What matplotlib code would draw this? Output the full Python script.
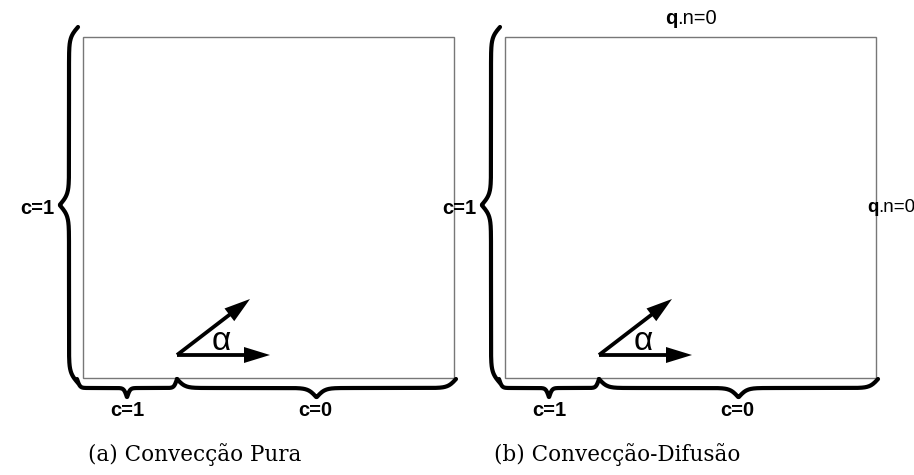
import numpy as np
import matplotlib.pyplot as plt
from matplotlib.patches import Rectangle, FancyArrow

# panel geometry (pixels, y downwards)
panel_x0 = [83, 505]
box_top, box_bot, box_w = 37, 378, 371
split_dx = 94          # where c=1 inlet ends along the bottom
arrow_dx = [73, 93]    # inclined / horizontal arrow lengths
arrow_dy = [-56, 0]

left_label = "c=1"
bottom_labels = ["c=1", "c=0"]
captions = ["(a) Convecção Pura", "(b) Convecção-Difusão"]
flux_label_q, flux_label_rest = "q", ".n=0"

W, H = 914, 475
fig = plt.figure(figsize=(W / 100, H / 100), dpi=100)
ax = fig.add_axes([0, 0, 1, 1])
ax.set_xlim(0, W)
ax.set_ylim(H, 0)
ax.axis("off")


def half(n, beta):
    t = np.linspace(0, 1, n)
    return 1 / (1 + np.exp(-beta * t)) + 1 / (1 + np.exp(-beta * (t - 1)))


def brace(a, b, base, depth, horizontal=True, beta=34, lw=3.0):
    n = 200
    s = np.linspace(a, b, 2 * n)
    h = half(n, beta)
    prof = np.concatenate([h, h[::-1]])   # 0.5 .. ~1 .. 1.5
    off = (prof - 0.5) * depth
    if horizontal:
        ax.plot(s, base + off, color="black", lw=lw, solid_capstyle="round")
    else:
        ax.plot(base - off, s, color="black", lw=lw, solid_capstyle="round")


txt = dict(family="Liberation Sans", fontweight="bold", fontsize=14.5)

for i, x0 in enumerate(panel_x0):
    ax.add_patch(Rectangle((x0, box_top), box_w, box_bot - box_top,
                           fill=False, ec="#777777", lw=1.0))
    # left brace
    brace(27, 383, x0 - 5, 18, horizontal=False)
    ax.text(x0 - 46, 208, left_label, ha="center", va="center", **txt)
    # bottom braces
    xs = x0 + split_dx
    brace(x0 - 6, xs, 379, 18)
    brace(xs, x0 + box_w + 2, 379, 18)
    ax.text((x0 - 5 + xs) / 2, 410, bottom_labels[0], ha="center", va="center", **txt)
    ax.text((xs + x0 + box_w) / 2, 410, bottom_labels[1], ha="center", va="center", **txt)
    # velocity arrows
    ox, oy = xs, 355
    for dx, dy in zip(arrow_dx, arrow_dy):
        ax.add_patch(FancyArrow(ox, oy, dx, dy, width=3.8, head_width=16,
                                head_length=26, length_includes_head=True,
                                color="black", lw=0))
    ax.text(ox + 44, 342, "α", ha="center", va="center",
            family="Liberation Sans", fontsize=24)
    # caption
    ax.text(x0 + 112, 455, captions[i], ha="center", va="center",
            family="DejaVu Serif", fontsize=15.5)


# flux conditions on panel (b)
def flux(x, y, size=14.5):
    t = ax.text(x, y, flux_label_q, ha="left", va="center",
                family="Liberation Sans", fontweight="bold", fontsize=size)
    fig.canvas.draw()
    bb = t.get_window_extent()
    xe = ax.transData.inverted().transform((bb.x1, bb.y0))[0]
    ax.text(xe, y, flux_label_rest, ha="left", va="center",
            family="Liberation Sans", fontsize=size)


flux(665, 18)
flux(867, 208, 13.5)

fig.savefig("out.png", dpi=100)
